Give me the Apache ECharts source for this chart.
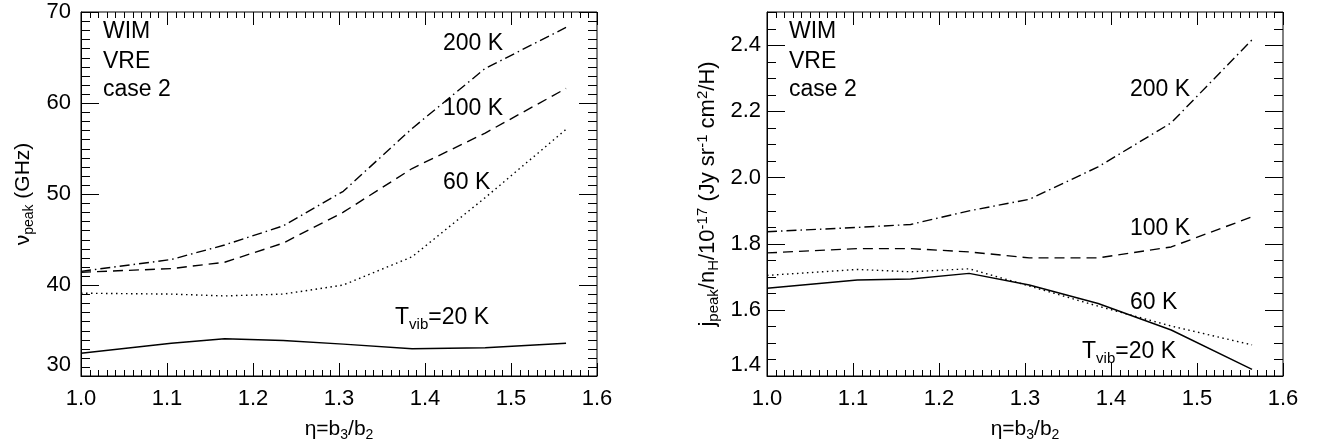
<!DOCTYPE html>
<html>
<head>
    <meta charset="utf-8" />
    <title></title>
    <script src="https://cdn.jsdelivr.net/npm/echarts@6/dist/echarts.min.js"></script>
    <style>
        html, body { margin: 0; padding: 0; background: #fff; }
        #main { width: 1323px; height: 443px; }
    </style>
</head>
<body>
    <div id="main"></div>
    <script type="text/javascript">
        // eta = b3/b2 values shared by both panels
        var eta = [1.0, 1.105, 1.167, 1.235, 1.305, 1.385, 1.47, 1.564];

        // left panel: nu_peak (GHz)
        var nu200 = [41.5, 42.8, 44.4, 46.5, 50.3, 57.2, 63.8, 68.3];
        var nu100 = [41.4, 41.8, 42.5, 44.6, 48.0, 52.8, 56.7, 61.6];
        var nu60 = [39.1, 39.0, 38.8, 39.0, 40.0, 43.1, 49.6, 57.1];
        var nu20 = [32.5, 33.6, 34.1, 33.9, 33.5, 33.0, 33.1, 33.6];

        // right panel: j_peak/n_H / 1e-17
        var j200 = [1.836, 1.849, 1.858, 1.899, 1.934, 2.032, 2.165, 2.416];
        var j100 = [1.772, 1.785, 1.785, 1.775, 1.757, 1.757, 1.790, 1.881];
        var j60 = [1.704, 1.722, 1.715, 1.724, 1.672, 1.611, 1.551, 1.494];
        var j20 = [1.665, 1.690, 1.693, 1.710, 1.675, 1.619, 1.539, 1.420];

        // axis ranges: [min, max, major step, minor step]
        var xRange = [1.0, 1.6, 0.1, 0.01];
        var nuRange = [30, 70, 10, 1];
        var jRange = [1.4, 2.5, 0.2, 0.05];

        function pairs(ys) {
            var out = [];
            for (var i = 0; i < eta.length; i++) out.push([eta[i], ys[i]]);
            return out;
        }

        // tick positions along an axis, flag 1 = major
        function tickList(r) {
            var out = [];
            var n = Math.round((r[1] - r[0]) / r[3]);
            for (var i = 0; i <= n; i++) {
                var v = +(r[0] + i * r[3]).toFixed(4);
                var q = v / r[2];
                out.push([v, Math.abs(q - Math.round(q)) < 1e-6 ? 1 : 0]);
            }
            return out;
        }

        var FONT = 'Liberation Sans, Arial, Helvetica, sans-serif';
        var styles = {
            solid: 'solid',
            dot: [1.5, 3.5],
            dash: [10, 6],
            dashdot: [10, 4, 1.5, 4]
        };

        function richName(big, small) {
            return {
                n: { fontSize: big, fontFamily: FONT, color: '#000', lineHeight: 26 },
                sub: { fontSize: small, fontFamily: FONT, color: '#000', verticalAlign: 'bottom', lineHeight: 26 },
                sup: { fontSize: small, fontFamily: FONT, color: '#000', verticalAlign: 'top', lineHeight: 26 }
            };
        }

        function xAxis(gridIndex) {
            return {
                type: 'value', gridIndex: gridIndex, position: 'bottom',
                min: xRange[0], max: xRange[1], interval: xRange[2],
                axisLine: { show: true, onZero: false, lineStyle: { color: '#000', width: 1 } },
                axisTick: { show: false },
                splitLine: { show: false },
                axisLabel: {
                    show: true, fontSize: 22, fontFamily: FONT, color: '#000', margin: 12,
                    formatter: function (v) { return v.toFixed(1); }
                },
                name: '{n|η=b}{sub|3}{n|/b}{sub|2}',
                nameLocation: 'middle', nameGap: 40,
                nameTextStyle: { rich: richName(21, 14) }
            };
        }

        function yAxis(gridIndex, r, digits, name, margin, nameGap, showMax, big, small) {
            return {
                type: 'value', gridIndex: gridIndex, position: 'left',
                min: r[0], max: r[1], interval: r[2],
                axisLine: { show: true, onZero: false, lineStyle: { color: '#000', width: 1 } },
                axisTick: { show: false },
                splitLine: { show: false },
                axisLabel: {
                    show: true, fontSize: 22, fontFamily: FONT, color: '#000', margin: margin,
                    showMaxLabel: showMax, showMinLabel: true,
                    verticalAlignMinLabel: 'bottom',
                    formatter: function (v) { return v.toFixed(digits); }
                },
                name: name, nameLocation: 'middle', nameGap: nameGap, nameRotate: 90,
                nameTextStyle: { rich: richName(big, small) }
            };
        }

        function line(name, data, type, gi) {
            return {
                name: name, type: 'line', data: pairs(data), xAxisIndex: gi, yAxisIndex: gi,
                symbol: 'none', silent: true, z: 3,
                lineStyle: { color: '#000', width: 1.4, type: type }
            };
        }

        function px(v) { return Math.round(v) + 0.5; }

        // inward ticks on bottom and top edges
        function xTicks(gi, yr) {
            return {
                type: 'custom', xAxisIndex: gi, yAxisIndex: gi, silent: true, clip: false, z: 4,
                data: tickList(xRange),
                renderItem: function (params, api) {
                    var len = api.value(1) ? 13 : 6;
                    var b = api.coord([api.value(0), yr[0]]);
                    var t = api.coord([api.value(0), yr[1]]);
                    var x = px(b[0]);
                    var st = { stroke: '#000', lineWidth: 1 };
                    return { type: 'group', children: [
                        { type: 'line', shape: { x1: x, y1: b[1], x2: x, y2: b[1] - len }, style: st },
                        { type: 'line', shape: { x1: x, y1: t[1], x2: x, y2: t[1] + len }, style: st }
                    ] };
                }
            };
        }

        // inward ticks on left and right edges
        function yTicks(gi, yr) {
            return {
                type: 'custom', xAxisIndex: gi, yAxisIndex: gi, silent: true, clip: false, z: 4,
                data: tickList(yr).map(function (d) { return [xRange[0], d[0], d[1]]; }),
                encode: { x: 0, y: 1 },
                renderItem: function (params, api) {
                    var len = api.value(2) ? 18 : 9;
                    var l = api.coord([xRange[0], api.value(1)]);
                    var r = api.coord([xRange[1], api.value(1)]);
                    var y = px(l[1]);
                    var st = { stroke: '#000', lineWidth: 1 };
                    return { type: 'group', children: [
                        { type: 'line', shape: { x1: l[0], y1: y, x2: l[0] + len, y2: y }, style: st },
                        { type: 'line', shape: { x1: r[0], y1: y, x2: r[0] - len, y2: y }, style: st }
                    ] };
                }
            };
        }

        function txt(x, y, text) {
            return {
                type: 'text', x: x, y: y,
                style: {
                    text: text, fill: '#000', font: '23px ' + FONT, verticalAlign: 'middle',
                    rich: {
                        n: { fontSize: 23, fontFamily: FONT, fill: '#000', lineHeight: 28 },
                        sub: { fontSize: 15, fontFamily: FONT, fill: '#000', verticalAlign: 'bottom', lineHeight: 24 }
                    }
                }
            };
        }

        var nuName = '{n|ν}{sub|peak}{n| (GHz)}';
        var jName = '{n|j}{sub|peak}{n|/n}{sub|H}{n|/10}{sup|-17}{n| (Jy sr}{sup|-1}{n| cm}{sup|2}{n|/H)}';

        var chart = echarts.init(document.getElementById('main'));
        var option = {
            backgroundColor: '#fff',
            animation: false,
            grid: [
                { left: 81, top: 12, width: 516, height: 364, outerBoundsMode: 'none',
                  show: true, borderColor: '#000', borderWidth: 1, backgroundColor: 'transparent' },
                { left: 767, top: 12, width: 516, height: 364, outerBoundsMode: 'none',
                  show: true, borderColor: '#000', borderWidth: 1, backgroundColor: 'transparent' }
            ],
            xAxis: [xAxis(0), xAxis(1)],
            yAxis: [
                yAxis(0, nuRange, 0, nuName, 10, 45, true, 21, 14),
                yAxis(1, jRange, 1, jName, 6, 46, false, 22, 15)
            ],
            series: [
                line('200 K', nu200, styles.dashdot, 0),
                line('100 K', nu100, styles.dash, 0),
                line('60 K', nu60, styles.dot, 0),
                line('20 K', nu20, styles.solid, 0),
                line('200 K', j200, styles.dashdot, 1),
                line('100 K', j100, styles.dash, 1),
                line('60 K', j60, styles.dot, 1),
                line('20 K', j20, styles.solid, 1),
                xTicks(0, nuRange), yTicks(0, nuRange),
                xTicks(1, jRange), yTicks(1, jRange)
            ],
            graphic: [
                txt(103, 32, 'WIM'), txt(103, 62, 'VRE'), txt(103, 90, 'case 2'),
                txt(443, 44, '200 K'), txt(443, 109, '100 K'), txt(443, 183, '60 K'),
                txt(395, 318, '{n|T}{sub|vib}{n|=20 K}'),
                txt(789, 32, 'WIM'), txt(789, 62, 'VRE'), txt(789, 90, 'case 2'),
                txt(1130, 90, '200 K'), txt(1130, 229, '100 K'), txt(1130, 303, '60 K'),
                txt(1082, 352, '{n|T}{sub|vib}{n|=20 K}')
            ]
        };
        chart.setOption(option);
    </script>
</body>
</html>
